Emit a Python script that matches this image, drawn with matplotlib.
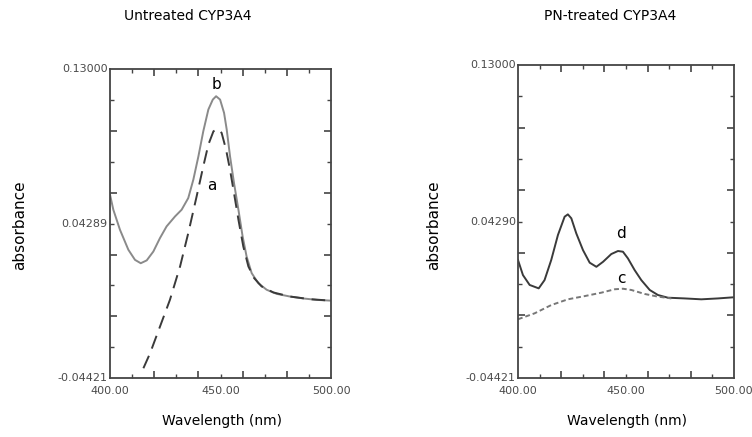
import numpy as np
import matplotlib.pyplot as plt
from matplotlib.ticker import FixedLocator, NullFormatter

wl_b = [400, 401.5, 404.5, 408.3, 411.3, 413.9, 416.6, 419.6, 422.6, 425.6, 429.4, 432.4,
        435.4, 437.7, 440, 442.2, 444.5, 446.5, 448, 449.8, 451.6, 452.8, 454.3, 456.1,
        458.1, 460, 461.8, 464.1, 467.1, 470.9, 475.4, 481.4, 487.5, 493.5, 499.5]
abs_b = [0.0593, 0.0508, 0.0395, 0.0282, 0.0225, 0.0206, 0.0222, 0.0272, 0.0348, 0.0414,
         0.0470, 0.0508, 0.0574, 0.0678, 0.0810, 0.0951, 0.1074, 0.1130, 0.1149, 0.1130,
         0.1055, 0.0961, 0.0810, 0.0659, 0.0508, 0.0357, 0.0244, 0.0150, 0.0093, 0.0056,
         0.0033, 0.0018, 0.0007, -0.0001, -0.0005]

wl_a = [415.1, 418.1, 422.6, 427.1, 431.7, 435.4, 439.2, 442.2, 444.5, 446.8, 448.6,
        450.5, 452.5, 454.3, 456.1, 458.1, 460.3, 462.6, 465.2, 468.6, 473.9, 481.4,
        490.5, 499.5]
abs_a = [-0.0387, -0.0303, -0.0152, -0.0001, 0.0188, 0.0376, 0.0584, 0.0753, 0.0876,
         0.0951, 0.0964, 0.0942, 0.0848, 0.0734, 0.0602, 0.0452, 0.0301, 0.0188, 0.0122,
         0.0075, 0.0041, 0.0018, 0.0003, -0.0005]

wl_d = [400, 402.3, 405.4, 409.6, 412.3, 415.4, 418.5, 421.6, 423.1, 424.7, 427, 430.1,
        433.2, 436.3, 439.4, 443.2, 446.3, 448.6, 450.9, 454, 457.1, 461, 464.8, 469.4,
        477.2, 484.9, 492.6, 499.5]
abs_d = [0.0215, 0.0131, 0.0076, 0.0057, 0.0103, 0.0215, 0.0354, 0.0456, 0.0469, 0.0447,
         0.0363, 0.0270, 0.0200, 0.0177, 0.0205, 0.0248, 0.0265, 0.0261, 0.0224, 0.0159,
         0.0103, 0.0048, 0.0020, 0.0005, 0.0001, -0.0004, 0.0001, 0.0007]

wl_c = [400, 407.7, 415.4, 423.1, 430.9, 438.6, 444.8, 448.6, 452.5, 458.6, 464.8, 471]
abs_c = [-0.0115, -0.0082, -0.0036, -0.0004, 0.0014, 0.0033, 0.0052, 0.0055, 0.0048,
         0.0026, 0.0011, 0.0001]

y_min, y_max = -0.04421, 0.13000
left_ylabels = ['-0.04421', '0.04289', '0.13000']
right_ylabels = ['-0.04421', '0.04290', '0.13000']
x_labels = ['400.00', '450.00', '500.00']

FRAME = '#444444'
TXT = '#4a4a4a'


def style_axes(ax, ylabels):
    ax.set_xlim(400, 500)
    ax.set_ylim(y_min, y_max)
    for s in ax.spines.values():
        s.set_color(FRAME)
        s.set_linewidth(1.3)
    step = (y_max - y_min) / 10
    yt = [y_min + i * step for i in range(11)]
    ax.xaxis.set_major_locator(FixedLocator([420, 440, 460, 480]))
    ax.xaxis.set_minor_locator(FixedLocator([410, 430, 450, 470, 490]))
    ax.yaxis.set_major_locator(FixedLocator(yt[2:9:2]))
    ax.yaxis.set_minor_locator(FixedLocator(yt[1:10:2]))
    ax.xaxis.set_major_formatter(NullFormatter())
    ax.yaxis.set_major_formatter(NullFormatter())
    ax.tick_params(which='major', direction='in', length=5, width=1.2, color=FRAME,
                   top=True, right=True)
    ax.tick_params(which='minor', direction='in', length=3, width=1.0, color=FRAME,
                   top=True, right=True)
    # etiquetas tipo software del espectrofotómetro
    for val, lab in zip([400, 450, 500], x_labels):
        ax.text(val, -0.025, lab, transform=ax.get_xaxis_transform(), ha='center',
                va='top', fontsize=8, color=TXT)
    for val, lab in zip([y_min, (y_min + y_max) / 2, y_max], ylabels):
        ax.text(-0.01, val, lab, transform=ax.get_yaxis_transform(), ha='right',
                va='center', fontsize=8, color=TXT)


fig = plt.figure(figsize=(7.52, 4.37), dpi=100)
ax1 = fig.add_axes([0.1463, 0.135, 0.2939, 0.706])
ax2 = fig.add_axes([0.6888, 0.135, 0.2872, 0.716])

ax1.plot(wl_b, abs_b, color='#8a8a8a', lw=1.4)
ax1.plot(wl_a, abs_a, color='#3a3a3a', lw=1.4, dashes=(7, 4))
ax1.text(448.3, 0.1215, 'b', ha='center', va='center', fontsize=11)
ax1.text(446, 0.0645, 'a', ha='center', va='center', fontsize=11)
style_axes(ax1, left_ylabels)

ax2.plot(wl_d, abs_d, color='#3a3a3a', lw=1.4)
ax2.plot(wl_c, abs_c, color='#777777', lw=1.4, dashes=(2.5, 1.5))
ax2.text(447.8, 0.0363, 'd', ha='center', va='center', fontsize=11)
ax2.text(447.8, 0.0113, 'c', ha='center', va='center', fontsize=11)
style_axes(ax2, right_ylabels)

fig.text(188 / 752, 1 - 16 / 437, 'Untreated CYP3A4', ha='center', va='center', fontsize=10)
fig.text(610 / 752, 1 - 16 / 437, 'PN-treated CYP3A4', ha='center', va='center', fontsize=10)
fig.text(222 / 752, 1 - 421 / 437, 'Wavelength (nm)', ha='center', va='center', fontsize=10)
fig.text(627 / 752, 1 - 421 / 437, 'Wavelength (nm)', ha='center', va='center', fontsize=10)
fig.text(20 / 752, 1 - 225 / 437, 'absorbance', rotation=90, ha='center', va='center', fontsize=11)
fig.text(434 / 752, 1 - 225 / 437, 'absorbance', rotation=90, ha='center', va='center', fontsize=11)

fig.savefig('out.png', dpi=100)
